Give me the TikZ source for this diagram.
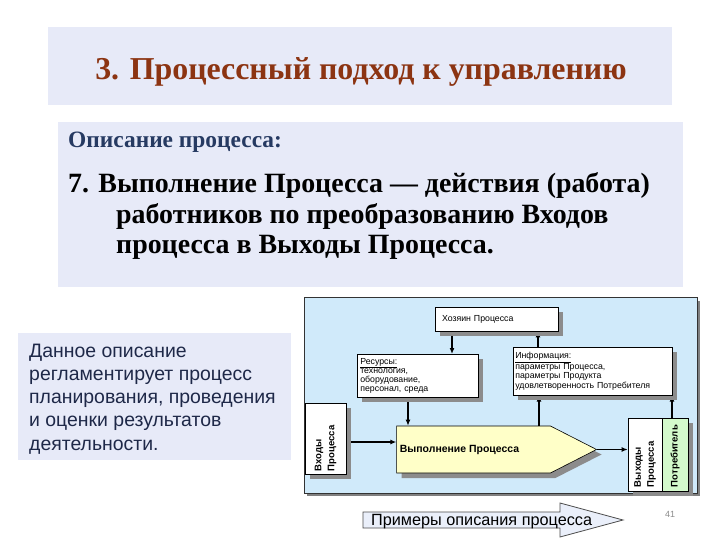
\documentclass[tikz,border=0pt]{standalone}
\usepackage{fontspec}
\setmainfont{Liberation Serif}
\setsansfont{Liberation Sans}
\usetikzlibrary{arrows.meta,shapes.symbols,shadows,backgrounds}
\definecolor{slidebg}{RGB}{231,234,248}
\definecolor{titlered}{RGB}{140,52,18}
\definecolor{subblue}{RGB}{38,58,98}
\definecolor{notetext}{RGB}{30,40,72}
\definecolor{panelblue}{RGB}{208,234,250}
\definecolor{procyellow}{RGB}{255,255,200}
\definecolor{consgreen}{RGB}{212,250,204}
\definecolor{exfill}{RGB}{234,239,250}
\newcommand{\uptext}[1]{\rotatebox{90}{\parbox{65bp}{\raggedright #1}}}
\begin{document}
\begin{tikzpicture}[x=1bp,y=-1bp,>={Latex[length=6bp,width=5bp]},
  box/.style={draw=black,fill=white,line width=0.6bp,inner sep=0pt},
  shade/.style={drop shadow={shadow xshift=5bp,shadow yshift=-5bp,fill=black!45,opacity=1}},
  small/.style={font=\sffamily\fontsize{8.8}{9.2}\selectfont},
  vbold/.style={font=\sffamily\bfseries\fontsize{9.6}{13}\selectfont},
  flow/.style={->,line width=1.2bp}]
\useasboundingbox (0,0) rectangle (720,540);
\begin{pgfonlayer}{background}
  \fill[white] (0,0) rectangle (720,540);
  % Panel
  \node[draw=black!80, line width=1bp, fill=panelblue, minimum width=393bp, minimum height=195bp,
    drop shadow={shadow xshift=3bp,shadow yshift=-3bp,fill=black!50,opacity=1}] (panel) at (500.5,395.5) {};
\end{pgfonlayer}
%%
% Title
\node[fill=slidebg, minimum width=624bp, minimum height=78bp] (titlebox) at (360,66) {};
\node[anchor=base, inner sep=0, text=titlered, font=\bfseries\fontsize{32}{34}\selectfont] (title) at (361,80) {3. Процессный подход к управлению};
% Description
\node[fill=slidebg, minimum width=625bp, minimum height=165bp] (descbox) at (370.5,204.5) {};
\node[anchor=base west, inner sep=0, text=subblue, font=\bfseries\fontsize{23.5}{26}\selectfont] (desctitle) at (68,148) {Описание процесса:};
\node[anchor=base west, inner sep=0, align=left, font=\bfseries\fontsize{28}{31}\selectfont] (desctext) at (68,254)
  {7. Выполнение Процесса — действия (работа)\\
   \hspace*{48bp}работников по преобразованию Входов\\
   \hspace*{48bp}процесса в Выходы Процесса.};
% Note
\node[fill=slidebg, minimum width=273bp, minimum height=127bp] (notebox) at (154.5,396.5) {};
\node[anchor=base west, inner sep=0, align=left, text=notetext, font=\sffamily\fontsize{19.5}{23.2}\selectfont] (note) at (29,450)
  {Данное описание\\регламентирует процесс\\планирования, проведения\\и оценки результатов\\деятельности.};
%%
% Node: owner
\node[box, shade, small, minimum width=123bp, minimum height=24bp, text width=109bp, inner xsep=7bp, align=left] (owner) at (496.5,319) {Хозяин Процесса};
% Node: resources
\node[box, shade, small, anchor=north west, minimum width=121bp, minimum height=43bp, text width=115bp, inner xsep=3bp, align=left] (res) at (357,354)
  {\underline{Ресурсы:}\\технология,\\оборудование,\\персонал, среда};
% Node: information
\node[box, shade, small, anchor=north west, minimum width=159bp, minimum height=48bp, text width=155bp, inner xsep=2bp, align=left] (info) at (513,347)
  {\underline{Информация:}\\параметры Процесса,\\параметры Продукта\\удовлетворенность Потребителя};
% Node: process
\node[signal, signal to=east, signal pointer angle=54, draw=black, line width=0.6bp, fill=procyellow, shade,
  minimum width=199bp, minimum height=47bp, font=\sffamily\bfseries\fontsize{10.5}{12}\selectfont] (proc) at (473.5,449.5) {Выполнение Процесса\hspace*{28bp}};
% Node: inputs
\node[box, shade, vbold, minimum width=41bp, minimum height=71bp] (inputs) at (325.5,438.5) {\uptext{Входы\\Процесса}};
% Node: outputs
\node[box, shade, vbold, minimum width=34bp, minimum height=73bp] (outputs) at (645,454.5) {\uptext{Выходы\\Процесса}};
% Node: consumer
\node[box, shade, vbold, fill=consgreen, minimum width=26bp, minimum height=73bp] (cons) at (675,454.5) {\uptext{Потребитель}};
%%
\coordinate (ca) at (452,0);
\coordinate (cb) at (538,0);
\coordinate (cc) at (408,0);
\coordinate (cd) at (539,0);
\coordinate (ce) at (672,0);
\coordinate (ra) at (0,442);
\begin{pgfonlayer}{background}
  % Edges
  \draw[flow] (owner.south -| ca) -- (res.north -| ca);
  \draw[flow] (info.north -| cb) -- (owner.south -| cb);
  \draw[flow] (res.south -| cc) -- (proc.north -| cc);
  \draw[flow] (proc.north -| cd) -- (info.south -| cd);
  \draw[flow] (cons.north -| ce) -- (info.south -| ce);
  \draw[flow] (inputs.east |- ra) -- (proc.west |- ra);
  \draw[flow] (proc.east) -- (proc.east -| outputs.west);
\end{pgfonlayer}
%%
% Examples arrow
\draw[fill=exfill, draw=black!70, line width=0.8bp] (363,512) -- (560,512) -- (560,503) -- (623,520) -- (560,537) -- (560,528) -- (363,528) -- cycle;
\node[anchor=base west, inner sep=0, font=\sffamily\fontsize{16.3}{18}\selectfont] (examples) at (371,525.5) {Примеры описания процесса};
\node[text=black!45, font=\sffamily\fontsize{9}{10}\selectfont] (pagenum) at (670,514) {41};
\end{tikzpicture}
\end{document}
